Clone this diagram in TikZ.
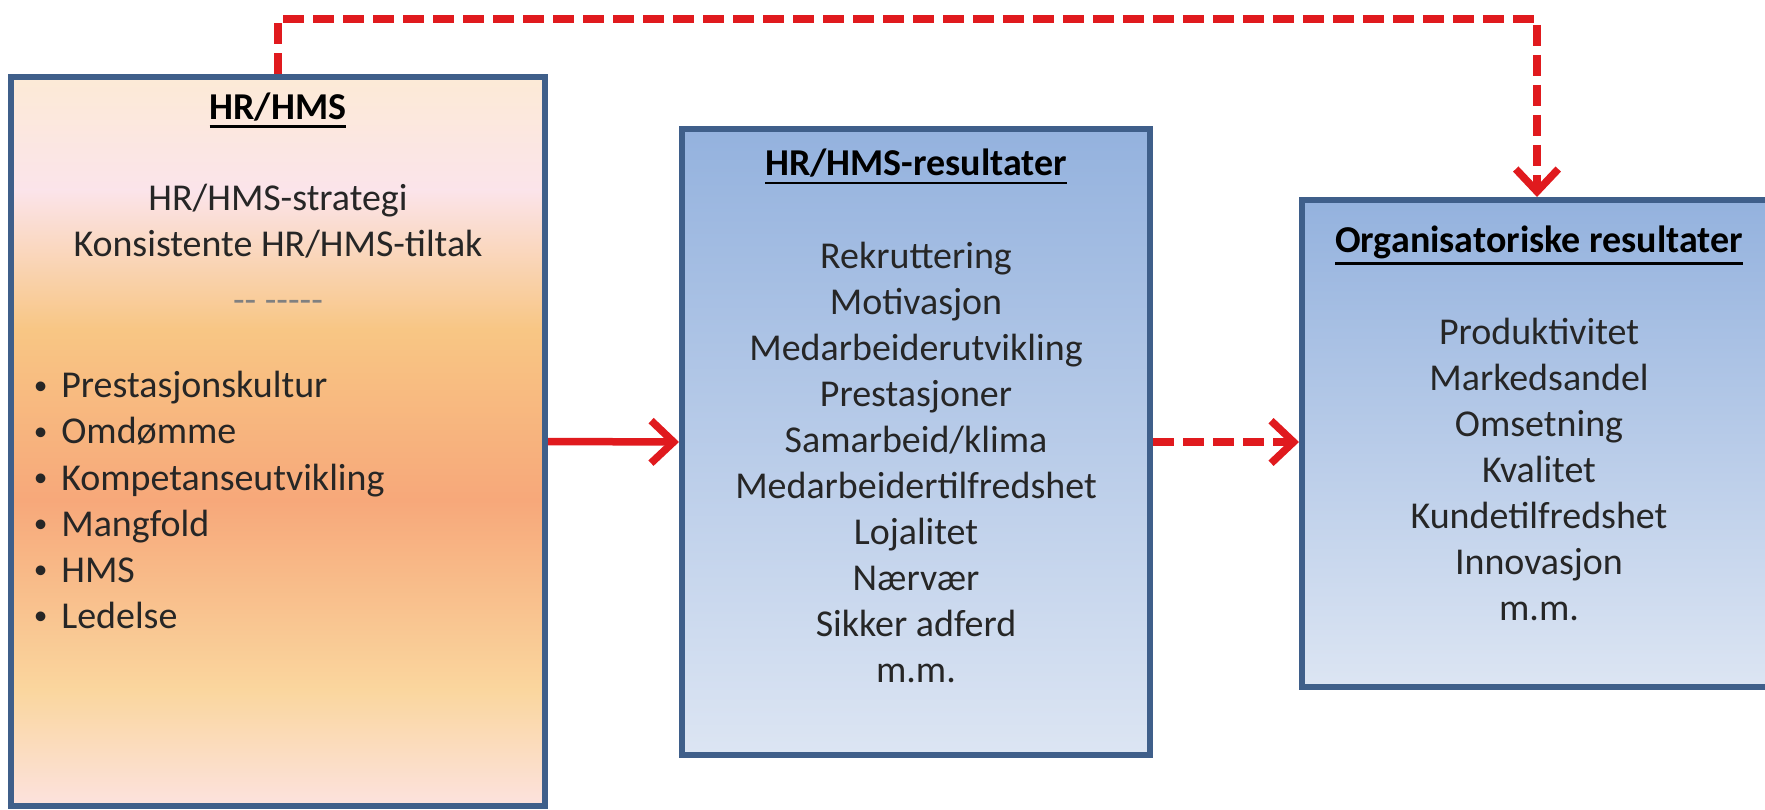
\documentclass[tikz,border=0pt]{standalone}
\usepackage{fontspec}
\setmainfont{Carlito}
\newcommand{\undl}[1]{\leavevmode\vtop{\hbox{#1}\kern2.2pt\hrule height 1.6pt}}
\newcommand{\blt}{\makebox[0.55cm][l]{\raisebox{0.1em}{\scalebox{0.72}{\textbullet}}}}
\usetikzlibrary{arrows.meta}
\definecolor{boxline}{RGB}{63,95,138}
\definecolor{arrowred}{RGB}{224,26,30}
\definecolor{bluetop}{RGB}{148,178,222}
\definecolor{bluebot}{RGB}{220,229,243}
\definecolor{hrA}{RGB}{252,234,214}
\definecolor{hrB}{RGB}{251,228,234}
\definecolor{hrC}{RGB}{248,198,132}
\definecolor{hrD}{RGB}{247,168,122}
\definecolor{hrE}{RGB}{250,214,158}
\definecolor{hrF}{RGB}{252,226,222}
\definecolor{txt}{RGB}{38,38,38}

\begin{document}
\begin{tikzpicture}[
  blk/.style={draw=boxline, line width=0.12cm, inner sep=0pt},
  bluebox/.style={blk, top color=bluetop, bottom color=bluebot},
  boxtext/.style={align=center, text=txt, inner sep=0pt, font=\fontsize{21.6}{26.2}\selectfont},
  link/.style={draw=arrowred, line width=0.15cm, -{Straight Barb[length=0.45cm,width=0.85cm]}},
  dashlink/.style={link, dash pattern=on 0.42cm off 0.18cm}
]
\useasboundingbox (0,0) rectangle (35.3,16.18);

\shade[top color=hrA, bottom color=hrB] (0.22,14.64) rectangle (10.9,12.38);
\shade[top color=hrB, bottom color=hrC] (0.22,12.38) rectangle (10.9,9.58);
\shade[top color=hrC, bottom color=hrD] (0.22,9.58) rectangle (10.9,6.18);
\shade[top color=hrD, bottom color=hrE] (0.22,6.18) rectangle (10.9,2.38);
\shade[top color=hrE, bottom color=hrF] (0.22,2.38) rectangle (10.9,0.06);

\node[blk, minimum width=10.68cm, minimum height=14.58cm] (hr) at (5.56,7.35) {};
\node[bluebox, minimum width=9.36cm, minimum height=12.52cm] (res) at (18.32,7.34) {};
\node[bluebox, minimum width=9.4cm, minimum height=9.74cm] (org) at (30.74,7.31) {};

\node[boxtext, text=black] (hrtitle) at (5.56,13.98) {\textbf{\undl{HR/HMS}}};
\node[boxtext] (hrgoal) at (5.56,11.75) {HR/HMS-strategi\\Konsistente HR/HMS-tiltak};
\node[boxtext, text=black!50] (hrsep) at (5.56,10.06) {-{}- -{}-{}-{}-{}-};
\node[boxtext, align=left, anchor=west] (hrlist) at (0.67,6.18) {%
  \blt Prestasjonskultur\\
  \blt Omdømme\\
  \blt Kompetanseutvikling\\
  \blt Mangfold\\
  \blt HMS\\
  \blt Ledelse};

\node[boxtext] (restxt) at (18.32,7.86) {\textcolor{black}{\textbf{\undl{HR/HMS-resultater}}}\\[0.92cm]
  Rekruttering\\Motivasjon\\Medarbeiderutvikling\\Prestasjoner\\Samarbeid/klima\\
  Medarbeidertilfredshet\\Lojalitet\\Nærvær\\Sikker adferd\\m.m.};
\node[boxtext] (orgtxt) at (30.78,7.72) {\textcolor{black}{\textbf{\undl{Organisatoriske resultater}}}\\[0.92cm]
  Produktivitet\\Markedsandel\\Omsetning\\Kvalitet\\Kundetilfredshet\\Innovasjon\\m.m.};

\coordinate (hrtop) at (5.56,15.8);
\coordinate (orgtop) at (30.74,15.8);
\draw[dashlink] (hr.north) -- (hrtop) -- (orgtop) -- (org.north);
\draw[link] (hr.east) -- (res.west);
\draw[dashlink] (res.east) -- (res.east -| org.west);
\end{tikzpicture}
\end{document}
